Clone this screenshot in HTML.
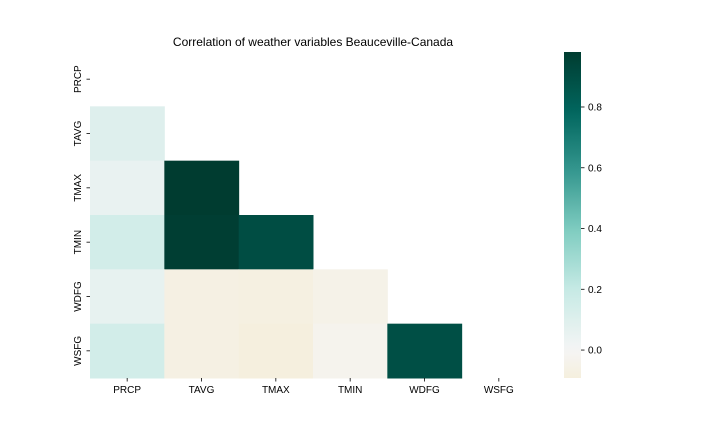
<!DOCTYPE html>
<html><head><meta charset="utf-8"><style>
body{margin:0;background:#fff;}
svg text{font-family:"Liberation Sans","DejaVu Sans",sans-serif;font-size:10px;fill:#000;}
</style></head><body>
<svg id="chart" width="720" height="432" xmlns="http://www.w3.org/2000/svg">
<text x="313" y="46" text-anchor="middle" style="font-size:12px">Correlation of weather variables Beauceville-Canada</text>
<defs><linearGradient id="cbg" x1="0" y1="1" x2="0" y2="0"></linearGradient></defs>
<g id="cells"></g><g id="axes"></g>
<rect x="564" y="52" width="17" height="326" fill="url(#cbg)"/>
<g id="cbticks"></g>
</svg>
<script>
const labels = ["PRCP","TAVG","TMAX","TMIN","WDFG","WSFG"];
const values = [
 [1,null,null,null,null,null],
 [0.10,1,null,null,null,null],
 [0.05,0.98,1,null,null,null],
 [0.15,0.97,0.90,1,null,null],
 [0.06,-0.07,-0.08,-0.05,1,null],
 [0.15,-0.07,-0.09,-0.03,0.89,1]
];
const cbTicks = [0.0,0.2,0.4,0.6,0.8];
const vmin = -0.092, vmax = 0.981, vabs = 0.981;

const NS="http://www.w3.org/2000/svg";
const stops=["#543005","#8c510a","#bf812d","#dfc27d","#f6e8c3","#f5f5f5","#c7eae5","#80cdc1","#35978f","#01665e","#003c30"];
function hex(h){return [1,3,5].map(i=>parseInt(h.substr(i,2),16));}
function color(v){
  let t=0.5+v/(2*vabs); t=Math.max(0,Math.min(1,t));
  const p=t*10, i=Math.min(9,Math.floor(p)), f=p-i;
  const a=hex(stops[i]), b=hex(stops[i+1]);
  return "rgb("+a.map((c,k)=>Math.round(c+(b[k]-c)*f)).join(",")+")";
}
const x0=90,x1=536,y0=52,y1=378,n=labels.length;
const cw=(x1-x0)/n, ch=(y1-y0)/n;
const xPos=j=>x0+j*cw, yPos=i=>y0+i*ch;
const cells=document.getElementById("cells"), axes=document.getElementById("axes");
values.forEach((row,i)=>row.forEach((v,j)=>{
  if(j>=i||v===null) return;
  const r=document.createElementNS(NS,"rect");
  r.setAttribute("x",xPos(j));r.setAttribute("y",yPos(i));
  r.setAttribute("width",cw+0.5);r.setAttribute("height",ch+0.5);
  r.setAttribute("fill",color(v));
  
  
  cells.appendChild(r);
}));
labels.forEach((l,k)=>{
  const cx=xPos(k)+cw/2, cy=yPos(k)+ch/2;
  const t1=document.createElementNS(NS,"line");
  t1.setAttribute("x1",cx);t1.setAttribute("x2",cx);t1.setAttribute("y1",y1);t1.setAttribute("y2",y1+3.5);t1.setAttribute("stroke","#000");t1.setAttribute("stroke-width","0.8");
  
  
  axes.appendChild(t1);
  const tx=document.createElementNS(NS,"text");
  tx.setAttribute("x",cx);tx.setAttribute("y",y1+15);tx.setAttribute("text-anchor","middle");tx.textContent=l;
  
  
  axes.appendChild(tx);
  const t2=document.createElementNS(NS,"line");
  t2.setAttribute("x1",x0-3.5);t2.setAttribute("x2",x0);t2.setAttribute("y1",cy);t2.setAttribute("y2",cy);t2.setAttribute("stroke","#000");t2.setAttribute("stroke-width","0.8");
  
  
  axes.appendChild(t2);
  const ty=document.createElementNS(NS,"text");
  ty.setAttribute("transform","translate("+(x0-9)+","+cy+") rotate(-90)");ty.setAttribute("text-anchor","middle");ty.textContent=l;
  
  
  axes.appendChild(ty);
});
const grad=document.getElementById("cbg");
for(let s=0;s<=40;s++){
  const v=vmin+(vmax-vmin)*s/40;
  const st=document.createElementNS(NS,"stop");
  st.setAttribute("offset",(s/40*100)+"%");st.setAttribute("stop-color",color(v));
  grad.appendChild(st);
}
const cbY=v=>y1-(v-vmin)/(vmax-vmin)*(y1-y0);
const cbt=document.getElementById("cbticks");
cbTicks.forEach(v=>{
  const y=cbY(v);
  const l=document.createElementNS(NS,"line");
  l.setAttribute("x1",581);l.setAttribute("x2",584.5);l.setAttribute("y1",y);l.setAttribute("y2",y);l.setAttribute("stroke","#000");l.setAttribute("stroke-width","0.8");
  
  
  cbt.appendChild(l);
  const t=document.createElementNS(NS,"text");
  t.setAttribute("x",588);t.setAttribute("y",y+3.5);t.textContent=v.toFixed(1);
  
  
  cbt.appendChild(t);
});
</script>
</body></html>
